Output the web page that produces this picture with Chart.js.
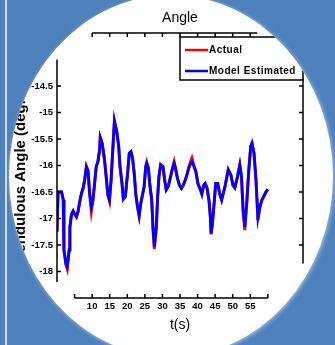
<!DOCTYPE html>
<html>
<head>
<meta charset="utf-8">
<script src="https://cdn.jsdelivr.net/npm/chart.js@4.4.1/dist/chart.umd.min.js"></script>
<style>
  html, body { margin: 0; padding: 0; }
  body { width: 335px; height: 345px; background: #4f81bd; position: relative; overflow: hidden; }
  #stripe { position: absolute; left: 5px; top: 0; width: 2px; height: 345px; background: #d3dcea; }
  #wrap { position: absolute; left: 0; top: 0; width: 335px; height: 345px; filter: drop-shadow(1px 1px 2px rgba(255,255,255,0.5)); }
  #disc { width: 335px; height: 345px; background: #fff; clip-path: ellipse(162px 181px at 171px 176px); }
  canvas { display: block; }
</style>
</head>
<body>
<div id="stripe"></div>
<div id="wrap"><div id="disc"><canvas id="chart" width="335" height="345"></canvas></div></div>
<script>
const timeValues = [
  0, 0.3, 1.3, 1.78, 1.97, 2.54, 2.91, 3.47, 3.66, 4.13,
  4.6, 5.07, 5.54, 6.01, 6.48, 6.95, 7.42, 7.89, 8.36, 8.83,
  9.3, 9.77, 10.23, 10.7, 11.17, 11.64, 12.11, 12.3, 12.86, 13.52,
  13.99, 14.46, 14.93, 15.4, 15.87, 16.34, 17.0, 17.56, 17.93, 18.5,
  18.87, 19.44, 20.09, 20.56, 21.03, 21.5, 21.97, 22.44, 22.91, 23.38,
  23.85, 24.79, 25.26, 25.54, 26.01, 26.38, 26.95, 27.32, 27.7, 28.26,
  28.64, 29.01, 29.48, 30.14, 30.7, 31.08, 31.64, 32.21, 32.77, 33.33,
  33.71, 34.27, 34.84, 35.4, 35.96, 36.53, 37.09, 37.46, 38.03, 38.4,
  38.97, 39.53, 40.09, 40.75, 41.22, 41.78, 42.16, 42.72, 43.29, 43.66,
  43.85, 44.23, 44.79, 45.16, 45.73, 46.29, 46.85, 47.42, 47.79, 48.26,
  48.73, 49.48, 50.05, 50.61, 51.36, 52.02, 52.49, 52.96, 53.43, 53.99,
  54.55, 55.12, 55.49, 56.06, 56.62, 57.18, 57.75, 58.31, 58.87, 59.44,
  60.0
];

const estimatedValues = [
  -17.25, -16.5, -16.5, -16.65, -17.59, -17.85, -17.91, -17.59, -17.17, -16.92,
  -16.86, -16.92, -16.97, -16.86, -16.68, -16.53, -16.43, -16.27, -16.02, -16.10,
  -16.53, -16.78, -16.65, -16.34, -16.02, -15.93, -15.71, -15.47, -15.58, -15.89,
  -16.21, -16.55, -16.65, -16.27, -15.71, -15.17, -15.36, -15.64, -16.02, -16.34,
  -16.62, -16.59, -16.15, -15.77, -15.74, -15.86, -16.15, -16.55, -16.78, -16.95,
  -16.71, -16.40, -16.02, -15.96, -16.05, -16.34, -16.65, -17.19, -17.53, -17.16,
  -16.59, -16.21, -15.99, -16.02, -16.30, -16.46, -16.40, -16.24, -16.08, -15.96,
  -16.05, -16.24, -16.37, -16.43, -16.37, -16.27, -16.15, -16.05, -15.96, -15.93,
  -16.02, -16.12, -16.34, -16.46, -16.55, -16.37, -16.34, -16.43, -16.68, -17.0,
  -17.28, -17.09, -16.65, -16.34, -16.34, -16.53, -16.65, -16.50, -16.40, -16.24,
  -16.08, -16.18, -16.37, -16.42, -16.21, -15.99, -16.21, -16.84, -17.16, -16.71,
  -16.11, -15.64, -15.58, -15.77, -16.27, -16.99, -16.78, -16.65, -16.58, -16.50,
  -16.45
];

const actualValues = [
  -17.25, -16.5, -16.5, -16.65, -17.59, -17.87, -17.95, -17.59, -17.17, -16.92,
  -16.86, -16.92, -16.97, -16.86, -16.68, -16.53, -16.43, -16.27, -16.02, -16.10,
  -16.55, -16.86, -16.65, -16.34, -16.02, -15.93, -15.71, -15.47, -15.58, -15.89,
  -16.21, -16.55, -16.67, -16.27, -15.71, -15.15, -15.36, -15.64, -16.02, -16.34,
  -16.64, -16.59, -16.15, -15.77, -15.74, -15.86, -16.15, -16.55, -16.78, -16.95,
  -16.71, -16.40, -16.02, -15.94, -16.05, -16.34, -16.65, -17.19, -17.58, -17.16,
  -16.59, -16.21, -15.98, -16.02, -16.30, -16.46, -16.40, -16.24, -16.08, -15.93,
  -16.05, -16.24, -16.37, -16.43, -16.37, -16.27, -16.15, -16.05, -15.92, -15.86,
  -16.00, -16.12, -16.34, -16.44, -16.48, -16.37, -16.34, -16.43, -16.68, -17.0,
  -17.30, -17.09, -16.65, -16.34, -16.34, -16.53, -16.65, -16.50, -16.40, -16.24,
  -16.08, -16.18, -16.37, -16.42, -16.21, -15.99, -16.21, -16.86, -17.22, -16.71,
  -16.11, -15.64, -15.58, -15.77, -16.27, -17.03, -16.78, -16.65, -16.58, -16.50,
  -16.45
];

const xTickValues = [5, 10, 15, 20, 25, 30, 35, 40, 45, 50, 55, 60];
const xTickLabels = ['', '10', '15', '20', '25', '30', '35', '40', '45', '50', '55', ''];
const yTickValues = [-14.5, -15, -15.5, -16, -16.5, -17, -17.5, -18];
const yTickLabels = ['-14.5', '-15', '-15.5', '-16', '-16.5', '-17', '-17.5', '-18'];

const FONT = '"Liberation Sans", Arial, sans-serif';

// matlab-style frame: partial box lines with inward ticks
const frame = {
  id: 'frame',
  afterDatasetsDraw(chart) {
    const { ctx } = chart;
    const x = chart.scales.x, y = chart.scales.y;
    const X = v => x.getPixelForValue(v);
    const Y = v => y.getPixelForValue(v);
    const tick = 4;
    ctx.save();
    ctx.strokeStyle = '#000';
    ctx.lineWidth = 1.5;
    ctx.beginPath();
    // bottom
    ctx.moveTo(X(5), Y(-18.5)); ctx.lineTo(X(60), Y(-18.5));
    xTickValues.forEach(v => { ctx.moveTo(X(v), Y(-18.5)); ctx.lineTo(X(v), Y(-18.5) - tick); });
    // top
    ctx.moveTo(X(10), Y(-13.5)); ctx.lineTo(X(57), Y(-13.5));
    xTickValues.filter(v => v >= 10 && v <= 55).forEach(v => { ctx.moveTo(X(v), Y(-13.5)); ctx.lineTo(X(v), Y(-13.5) + tick); });
    // left
    ctx.moveTo(X(0), Y(-14)); ctx.lineTo(X(0), Y(-18.2));
    yTickValues.forEach(v => { ctx.moveTo(X(0), Y(v)); ctx.lineTo(X(0) + tick, Y(v)); });
    // right
    ctx.moveTo(X(70), Y(-14.35)); ctx.lineTo(X(70), Y(-17.85));
    yTickValues.filter(v => v <= -14.5 && v >= -17.5).forEach(v => { ctx.moveTo(X(70), Y(v)); ctx.lineTo(X(70) - tick, Y(v)); });
    ctx.stroke();
    ctx.restore();
  }
};

const legendBox = {
  id: 'legendBox',
  afterDraw(chart) {
    const { ctx, chartArea } = chart;
    const right = chartArea.right, left = right - 123;
    const top = chartArea.top + 4, bottom = top + 43;
    ctx.save();
    ctx.fillStyle = '#fff';
    ctx.fillRect(left, top, right - left, bottom - top);
    ctx.strokeStyle = '#000';
    ctx.lineWidth = 1.5;
    ctx.strokeRect(left, top, right - left, bottom - top);
    ctx.font = 'bold 10px ' + FONT;
    ctx.letterSpacing = '0.5px';
    ctx.textBaseline = 'middle';
    chart.data.datasets.forEach((ds, i) => {
      const yy = top + 13 + i * 21;
      ctx.strokeStyle = ds.borderColor;
      ctx.lineWidth = 2.5;
      ctx.beginPath();
      ctx.moveTo(left + 5, yy);
      ctx.lineTo(left + 28, yy);
      ctx.stroke();
      ctx.fillStyle = '#000';
      ctx.fillText(ds.label, left + 29, yy);
    });
    ctx.restore();
  }
};

new Chart(document.getElementById('chart'), {
  type: 'line',
  data: {
    datasets: [
      {
        label: 'Actual',
        data: timeValues.map((t, i) => ({ x: t, y: actualValues[i] })),
        borderColor: '#ff0000',
        borderWidth: 3,
        pointRadius: 0,
        tension: 0,
        order: 2
      },
      {
        label: 'Model Estimated',
        data: timeValues.map((t, i) => ({ x: t, y: estimatedValues[i] })),
        borderColor: '#0000ff',
        borderWidth: 2.8,
        pointRadius: 0,
        tension: 0,
        order: 1
      }
    ]
  },
  options: {
    responsive: false,
    animation: false,
    devicePixelRatio: 1,
    layout: { padding: { left: 0, right: 32, top: 0, bottom: 0 } },
    plugins: {
      legend: { display: false },
      tooltip: { enabled: false },
      title: {
        display: true,
        text: 'Angle',
        fullSize: false,
        color: '#000',
        font: { family: FONT, size: 14, weight: 'normal' },
        padding: { top: 10, bottom: 6.2 }
      }
    },
    scales: {
      x: {
        type: 'linear',
        min: 0,
        max: 70,
        afterBuildTicks: s => { s.ticks = xTickValues.map(v => ({ value: v })); },
        afterFit: s => { s.height = 47; },
        grid: { display: false, drawTicks: false },
        border: { display: false },
        ticks: {
          autoSkip: false,
          maxRotation: 0,
          padding: 3,
          color: '#000',
          font: { family: FONT, size: 9.5, weight: 'bold' },
          callback: (v, i) => xTickLabels[i]
        },
        title: {
          display: true,
          text: 't(s)',
          color: '#000',
          font: { family: FONT, size: 14 },
          padding: { top: 0, bottom: 11 }
        }
      },
      y: {
        type: 'linear',
        min: -18.5,
        max: -13.5,
        afterBuildTicks: s => { s.ticks = yTickValues.map(v => ({ value: v })); },
        afterFit: s => { s.width = 57; },
        grid: { display: false, drawTicks: false },
        border: { display: false },
        ticks: {
          autoSkip: false,
          padding: 4,
          color: '#000',
          font: { family: FONT, size: 9.5, weight: 'bold' },
          callback: (v, i) => yTickLabels[i]
        },
        title: {
          display: true,
          text: 'Pendulous Angle (degrees)',
          color: '#000',
          font: { family: FONT, size: 15, weight: 'bold' },
          padding: { top: 12, bottom: 0 }
        }
      }
    }
  },
  plugins: [frame, legendBox]
});
</script>
</body>
</html>
